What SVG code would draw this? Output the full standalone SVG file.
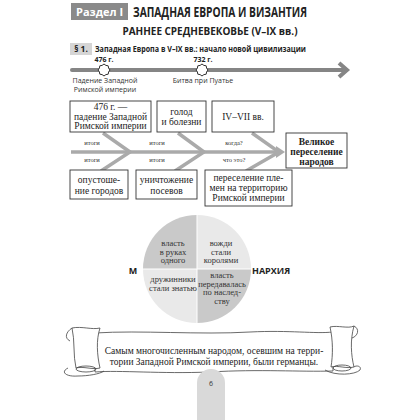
<svg xmlns="http://www.w3.org/2000/svg" width="420" height="420" viewBox="0 0 420 420">
<style>
.hd{font-family:"Open Sans","Liberation Sans",sans-serif;font-weight:bold;fill:#222}
.sm{font-family:"Open Sans","Liberation Sans",sans-serif;font-size:7px;fill:#333}
.sb{font-family:"Open Sans","Liberation Sans",sans-serif;font-size:7px;font-weight:bold;fill:#222}
.box{fill:#fff;stroke:#333;stroke-width:0.9}
.t{font-family:"Liberation Serif","DejaVu Serif",serif;font-size:9.5px;fill:#222;text-anchor:middle}
.tb{font-family:"Liberation Serif","DejaVu Serif",serif;font-size:9.5px;font-weight:bold;fill:#222;text-anchor:middle}
.lab{font-family:"Liberation Serif","DejaVu Serif",serif;font-size:6.5px;fill:#333;text-anchor:middle}
.bone{stroke:#aaa;stroke-width:3.5;fill:none}
.ct{font-family:"Liberation Serif","DejaVu Serif",serif;font-size:8.5px;fill:#333;text-anchor:middle}
.star{fill:#fff;stroke:#333;stroke-width:1}
</style>
<rect width="420" height="420" fill="#fff"/>
<g id="header">
<rect x="71" y="3" width="57" height="17" fill="#8a8a8a"/>
<text x="99.5" y="16" class="hd" font-size="11" fill="#fff" style="fill:#fff" text-anchor="middle">Раздел I</text>
<text x="133" y="17" class="hd" font-size="13.5" textLength="174" lengthAdjust="spacingAndGlyphs">ЗАПАДНАЯ ЕВРОПА И ВИЗАНТИЯ</text>
<text x="210" y="35" class="hd" font-size="11" text-anchor="middle" textLength="175" lengthAdjust="spacingAndGlyphs">РАННЕЕ СРЕДНЕВЕКОВЬЕ (V–IX вв.)</text>
<rect x="70" y="43" width="22" height="12" fill="#d5d5d5"/>
<text x="81" y="52" class="hd" font-size="8.5" text-anchor="middle">§ 1.</text>
<text x="95" y="52" class="hd" font-size="8.5" textLength="211" lengthAdjust="spacingAndGlyphs">Западная Европа в V–IX вв.: начало новой цивилизации</text>
</g>
<g id="timeline">
<line x1="72" y1="70" x2="346" y2="70" stroke="#858585" stroke-width="4" stroke-linecap="round"/>
<polyline points="339,63 347,70 339,77" fill="none" stroke="#858585" stroke-width="4" stroke-linejoin="miter"/>
<polygon class="star" points="104,64 105.9,65.4 108.2,65.8 108.6,68.1 110,70 108.6,71.9 108.2,74.2 105.9,74.6 104,76 102.1,74.6 99.8,74.2 99.4,71.9 98,70 99.4,68.1 99.8,65.8 102.1,65.4"/>
<polygon class="star" points="202,64 203.9,65.4 206.2,65.8 206.6,68.1 208,70 206.6,71.9 206.2,74.2 203.9,74.6 202,76 200.1,74.6 197.8,74.2 197.4,71.9 196,70 197.4,68.1 197.8,65.8 200.1,65.4"/>
<text x="104" y="62" class="sb" text-anchor="middle">476 г.</text>
<text x="203" y="62" class="sb" text-anchor="middle">732 г.</text>
<text x="105" y="83" class="sm" text-anchor="middle">Падение Западной</text>
<text x="105" y="92" class="sm" text-anchor="middle">Римской империи</text>
<text x="203" y="83" class="sm" text-anchor="middle">Битва при Пуатье</text>
</g>
<g id="connectors">
<line x1="71" y1="152" x2="276" y2="152" class="bone"/>
<polyline points="103,133 130,152 101,171" class="bone"/>
<polyline points="178,133 204,152 175,171" class="bone"/>
<polyline points="252,133 279,152 246,171" class="bone"/>
<polygon points="276,146 285,152 276,158" fill="#aaa"/>
<text x="92" y="145" class="lab">итоги</text>
<text x="92" y="162" class="lab">итоги</text>
<text x="157" y="145" class="lab">итоги</text>
<text x="157" y="162" class="lab">итоги</text>
<text x="234" y="145" class="lab">когда?</text>
<text x="234" y="162" class="lab">что это?</text>
</g>
<g id="box-fall">
<rect x="70" y="101" width="81" height="31" class="box"/>
<text x="110.5" y="110" class="t">476 г. —</text>
<text x="110.5" y="119.5" class="t">падение Западной</text>
<text x="110.5" y="129" class="t">Римской империи</text>
</g>
<g id="box-hunger">
<rect x="157" y="101" width="49" height="31" class="box"/>
<text x="181.5" y="114.5" class="t">голод</text>
<text x="181.5" y="125" class="t">и болезни</text>
</g>
<g id="box-when">
<rect x="212" y="101" width="62" height="31" class="box"/>
<text x="243" y="120" class="t">IV–VII вв.</text>
</g>
<g id="box-main">
<rect x="286" y="133" width="61" height="35" class="box" stroke-width="1.1"/>
<text x="316.5" y="145" class="tb">Великое</text>
<text x="316.5" y="155" class="tb">переселение</text>
<text x="316.5" y="165" class="tb">народов</text>
</g>
<g id="box-ruin">
<rect x="70" y="170" width="58" height="29" class="box"/>
<text x="99" y="183" class="t">опустоше-</text>
<text x="99" y="194" class="t">ние городов</text>
</g>
<g id="box-crops">
<rect x="136" y="170" width="61" height="29" class="box"/>
<text x="166.5" y="183" class="t">уничтожение</text>
<text x="166.5" y="194" class="t">посевов</text>
</g>
<g id="box-what">
<rect x="205" y="170" width="87" height="36" class="box"/>
<text x="248.5" y="181" class="t">переселение пле-</text>
<text x="248.5" y="191" class="t">мен на территорию</text>
<text x="248.5" y="201" class="t">Римской империи</text>
</g>
<g id="monarchy">
<path d="M197,269 L197,215 A54,54 0 0 0 143,269 Z" fill="#c9c9c9"/>
<path d="M197,269 L251,269 A54,54 0 0 0 197,215 Z" fill="#e9e9e9"/>
<path d="M197,269 L143,269 A54,54 0 0 0 197,323 Z" fill="#e9e9e9"/>
<path d="M197,269 L197,323 A54,54 0 0 0 251,269 Z" fill="#c9c9c9"/>
<line x1="197" y1="215" x2="197" y2="323" stroke="#fff" stroke-width="1"/>
<line x1="143" y1="269" x2="251" y2="269" stroke="#fff" stroke-width="1"/>
<text x="173" y="246" class="ct">власть</text>
<text x="173" y="254.5" class="ct">в руках</text>
<text x="173" y="263" class="ct">одного</text>
<text x="221" y="246" class="ct">вожди</text>
<text x="221" y="254.5" class="ct">стали</text>
<text x="221" y="263" class="ct">королями</text>
<text x="173" y="282" class="ct">дружинники</text>
<text x="173" y="290.5" class="ct">стали знатью</text>
<text x="222" y="278" class="ct">власть</text>
<text x="222" y="286.5" class="ct">передавалась</text>
<text x="222" y="295" class="ct">по наслед-</text>
<text x="222" y="303.5" class="ct">ству</text>
<text x="133" y="274" class="hd" font-size="9" text-anchor="middle">М</text>
<text x="252" y="274" class="hd" font-size="9">НАРХИЯ</text>
</g>
<g id="scroll" fill="none" stroke="#444" stroke-width="0.8">
<path d="M95,333 C140,330 200,335 250,332 C290,330 315,334 333,332 L333,371 C300,372 260,369 210,372 C160,374 120,370 95,372 Z" fill="#fff"/>
<path d="M72,328 C82,326 92,330 100,328 C96,340 97,355 100,368 C92,370 84,366 76,368 C73,356 75,340 72,328 Z" fill="#fff"/>
<path d="M72,328 C66,332 64,338 70,341"/>
<path d="M68,368 C60,372 66,377 78,376 C88,376 100,374 104,371"/>
<ellipse cx="86" cy="369" rx="10" ry="3"/>
<path d="M330,327 C338,325 348,329 354,326 C350,340 351,355 354,367 C346,369 338,365 331,367 C333,355 333,340 330,327 Z" fill="#fff"/>
<path d="M354,326 C360,329 358,336 352,338"/>
<path d="M325,370 C335,376 355,375 360,370 C362,366 356,365 354,367"/>
<ellipse cx="342" cy="368" rx="9" ry="3"/>
</g>
<g id="scroll-text">
<text x="214" y="354" class="t" font-size="9">Самым многочисленным народом, осевшим на терри-</text>
<text x="214" y="365" class="t" font-size="9">тории Западной Римской империи, были германцы.</text>
</g>
<g id="page">
<path d="M197,420 L197,383 A14,14 0 0 1 225,383 L225,420 Z" fill="#d9d9d9"/>
<text x="211" y="386" class="sm" text-anchor="middle">6</text>
</g>
</svg>
